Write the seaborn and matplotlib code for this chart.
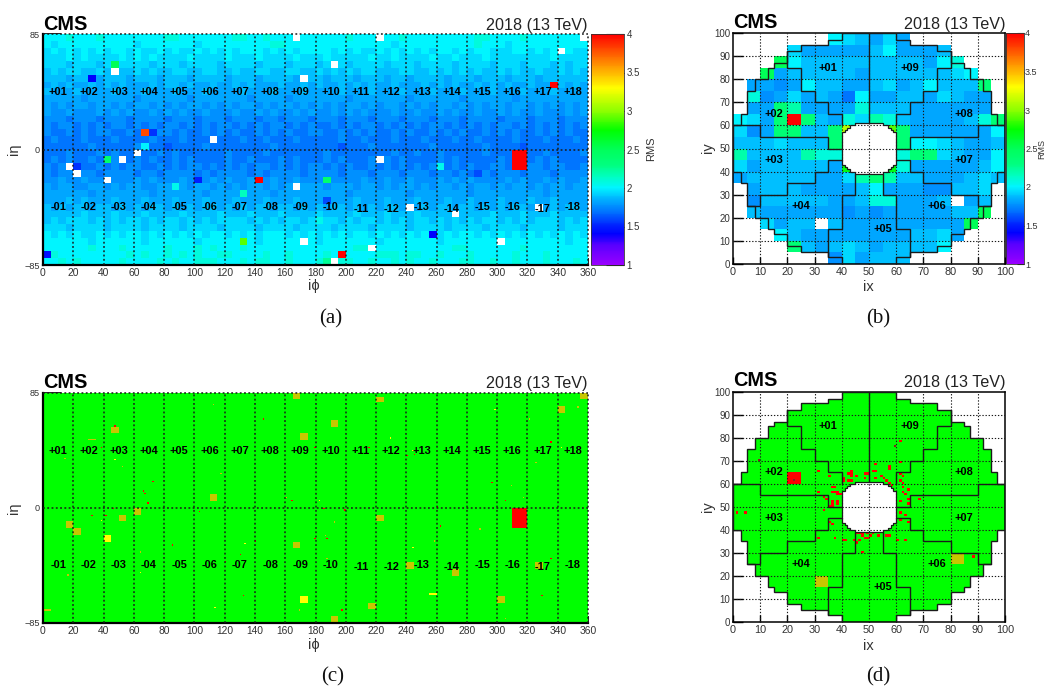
import numpy as np
import pandas as pd
import matplotlib
matplotlib.use("Agg")
import matplotlib.pyplot as plt
from matplotlib.colors import LinearSegmentedColormap, ListedColormap
import seaborn as sns

# ---------------------------------------------------------------- data
rms_levels = {'0': 1.63, '1': 1.70, '2': 1.77, '3': 1.83, '4': 1.88, '5': 1.94, '6': 2.0, '7': 2.08,
              '8': 2.2, '9': 2.35, 'A': 2.5, 'B': 2.7, 'C': 2.9, 'D': 3.1, 'E': 3.6, 'F': 4.0}

# barrel RMS per trigger tower, from ieta=+85 (top) to ieta=-85, iphi 0 to 360
barrel_rows = [
    "666766 676666 666677 666666 677667 666666 666676 666667 666666 666776 666766 666666",
    "656666 666666 566666 665666 666666 776666 666666 666656 666666 666766 656666 666666",
    "565656 565665 655656 556565 656665 656566 665656 556565 656566 565665 556656 565655",
    "555656 555565 656555 565555 655565 555655 565555 565565 555655 655565 555555 565555",
    "555455 545555 554555 455554 555545 554555 455545 555455 545555 455554 555455 545455",
    "454554 454544 545445 544554 454455 445544 545454 554445 544545 454544 545445 445454",
    "444344 434443 444344 434444 344434 444344 434443 444344 344443 444344 434443 444444",
    "343433 434343 334344 343343 343433 343343 433434 343343 334343 433434 343343 334343",
    "433343 333433 343334 333433 334333 433343 333433 343334 333433 343334 333433 343333",
    "333332 333333 233333 323333 333233 332333 333323 333333 233333 323333 332333 333333",
    "323233 233232 332323 233232 323323 233232 323233 232332 323233 232323 323323 232323",
    "322322 232323 223232 322322 232232 322323 223232 322232 232232 322322 323223 222323",
    "222122 212221 222212 221222 122212 212221 222122 212221 222122 212222 122212 221222",
    "212212 121221 212122 121212 212121 221212 112121 221212 121221 212121 221212 121212",
    "211212 122112 121221 211212 121121 212112 211212 121121 211212 121121 212112 121211",
    "121112 111211 112111 211121 112112 111211 111211 211121 112111 211211 112111 211121",
    "111111 211111 211101 111211 111111 211111 111011 121111 111211 111121 111011 111111",
    "111211 121211 211212 111111 211112 111111 121111 111121 121121 111121 111111 211112",
    "121211 211211 212112 121111 211211 121211 121211 121212 111121 211111 211212 121111",
    "212211 121212 211212 122121 212122 121212 212121 121212 121221 212112 212122 122112",
    "212222 212222 122122 221212 222121 222212 222122 212221 222122 121221 222122 212222",
    "223223 223222 323222 323232 322322 322322 232222 322322 322232 323222 232322 323223",
    "323322 332323 322332 323323 232332 323233 323332 332323 323233 232332 323323 233233",
    "333333 233333 332333 333233 333333 233333 333323 333333 233333 332333 333333 233333",
    "333434 333433 343334 333433 343334 333433 343334 333433 343334 334333 433343 343333",
    "434344 344343 434434 343443 434344 344343 434434 343443 434344 344343 434434 343443",
    "444445 444544 454444 544445 444544 454444 544445 444544 454444 544445 444544 454444",
    "454555 454545 545455 454545 555454 545545 455454 554545 455454 545455 454545 554545",
    "555455 554555 545555 455554 555545 555455 554555 545555 455554 555545 555455 554555",
    "656565 565656 656565 656566 565656 665656 565656 656565 656656 566565 656565 656565",
    "666666 566666 656666 665666 666656 666666 566666 665666 666656 666666 566666 666566",
    "666666 766676 666676 667676 667666 666666 666667 766666 666666 776666 666766 666666",
    "676666 666667 676676 767667 766667 667666 676666 667776 776676 667666 667666 766666",
    "667676 666676 666767 667776 667677 667666 766776 676676 766766 677667 667666 766676",
]
# (tower column, tower row from the top, RMS)
barrel_hot_towers = [
    (9, 4, 2.5), (6, 6, 1.4), (13, 14, 3.8), (14, 14, 1.55), (13, 16, 2.0), (8, 18, 2.4), (4, 19, 1.55),
    (20, 21, 1.5), (28, 21, 4.0), (37, 21, 2.4), (17, 22, 2.05), (26, 23, 2.15), (37, 24, 1.6),
    (36, 27, 2.05), (26, 30, 2.9), (0, 32, 1.45), (39, 32, 4.0), (37, 33, 2.25), (67, 7, 4.0),
    (62, 17, 4.0), (63, 17, 4.0), (62, 18, 4.0), (63, 18, 4.0), (62, 19, 4.0), (63, 19, 4.0),
    (52, 19, 2.05), (57, 20, 1.6), (51, 29, 1.4),
]
# towers without an RMS value (white) that show as olive or yellow in the status map
# (tower column, tower row from the top, status)
barrel_off_towers = [
    (33, 0, 1), (44, 0, 0), (71, 0, 1), (68, 2, 1), (38, 4, 1), (9, 5, 1), (34, 6, 1), (22, 15, 1),
    (12, 17, 1), (10, 18, 1), (44, 18, 1), (3, 19, 1), (4, 20, 1), (8, 21, 2), (33, 22, 1), (48, 25, 1),
    (65, 25, 1), (54, 26, 1), (34, 30, 2), (60, 30, 1), (43, 31, 1), (38, 33, 1),
]
barrel_red_towers = [(62, 17), (63, 17), (62, 18), (63, 18), (62, 19), (63, 19)]
# single crystals in the barrel status map: iphi, ieta, status
barrel_crystal_iphi = [47, 38, 14, 47, 52, 112, 117, 145, 179, 72, 66, 67, 69, 160, 164, 182, 46, 103, 32, 41, 38, 60,
                       215, 229, 240, 245, 244, 298, 321, 335, 342, 353, 325, 296, 309, 317, 305, 185, 199, 260, 262, 192,
                       133, 85, 130, 140, 179, 64, 64, 16, 120, 132, 113, 169, 186, 187, 187, 258, 244, 288, 329, 335, 197, 305]
barrel_crystal_ieta = [60, 44, 36, 35, 30, 76, 25, 65, 44, 19, 12, 10, 3, 7, 5, 5, -1, -3, -6, -6, -10, -12,
                       44, 51, 38, 39, 42, 72, 65, 48, 44, 74, 33, 18, 16, 7, 5, -1, -2, 0, -14, -11,
                       -27, -28, -35, -25, -23, -33, -48, -50, -40, -65, -74, -76, -21, -23, -38, -25, -30, -16, -65, -38, -76, -82]
barrel_crystal_status = [3, 3, 1, 2, 1, 1, 1, 3, 3, 3, 3, 3, 3, 1, 3, 2, 3, 3, 3, 3, 2, 1,
                         3, 2, 3, 3, 2, 2, 1, 3, 2, 1, 1, 3, 1, 1, 3, 3, 3, 3, 3, 1,
                         2, 3, 3, 3, 3, 1, 2, 1, 3, 3, 2, 1, 1, 3, 1, 1, 2, 1, 3, 3, 3, 1]
# short status strips: first iphi, last iphi, ieta range, status
barrel_strips = [(30, 35, 50, 51, 1), (0, 5, -76, -75, 1), (255, 260, -64, -63, 2), (220, 225, 78, 82, 1)]

# endcap RMS per 5x5 supercrystal, from iy 95-100 (top) to iy 0-5, ix 0 to 100
endcap_rows = [
    "       654353       ",
    "    533333463334    ",
    "   A6444444444367   ",
    "  A344444344444456  ",
    " 332364433453464449 ",
    " 723534316334435433 ",
    " 339833337444333333 ",
    "6539F943758743333479",
    "52399449D44C93333336",
    "44454449    96654334",
    "84444877    79954336",
    "53444443B44B73333346",
    "34444433589844333454",
    " 344433334633322445 ",
    " 244444334773334 34 ",
    " 43333332323333344A ",
    "  5344 4333333333A  ",
    "   64333333334453   ",
    "    943454344446    ",
    "       253444       ",
]
# endcap outline: left edge ix for each iy interval (symmetric about ix=50)
outline_iy = [100, 97, 95, 92, 87, 85, 80, 75, 65, 60, 40, 35, 25, 20, 15, 13, 8, 5, 3, 0]
outline_ix = [40, 35, 25, 20, 15, 13, 8, 5, 3, 0, 3, 5, 8, 13, 15, 20, 25, 35, 40]
# half width of the central hole, for distance 0..10 from iy=50
hole_half = [10, 10, 10, 10, 10, 10, 10, 9, 8, 7, 5]
# sector boundaries inside the endcap
sector_lines = [
    ([50, 50], [100, 61]),
    ([20, 20, 25, 25, 30, 30, 35, 35, 40, 40], [92, 85, 85, 75, 75, 70, 70, 65, 65, 60]),
    ([80, 80, 75, 75, 70, 70, 65, 65, 60, 60], [92, 85, 85, 75, 75, 70, 70, 65, 65, 60]),
    ([0, 10, 10, 35, 35, 40], [60, 60, 55, 55, 50, 50]),
    ([100, 90, 90, 65, 65, 60], [60, 60, 55, 55, 50, 50]),
    ([5, 10, 10, 20, 20, 30, 30, 35, 35, 40], [25, 25, 30, 30, 35, 35, 40, 40, 45, 45]),
    ([95, 90, 90, 80, 80, 70, 70, 65, 65, 60], [25, 25, 30, 30, 35, 35, 40, 40, 45, 45]),
    ([45, 45, 40, 40, 35, 35], [39, 30, 30, 15, 15, 3]),
    ([55, 55, 60, 60, 65, 65], [39, 30, 30, 15, 15, 3]),
]
# endcap status: red single crystals
ee_red_ix = [61, 61, 52, 57, 57, 31, 35, 40, 40, 42, 43, 43, 43, 45, 48, 49, 48, 42, 43, 51, 52, 52, 54, 55, 56,
             61, 62, 61, 62, 57, 58, 62, 64, 62, 63, 68, 64, 64, 61, 31, 36, 37, 36, 37, 38, 33, 38, 39, 34, 36, 36,
             38, 38, 35, 36, 33, 1, 4, 35, 36, 33, 31, 37, 40, 41, 44, 45, 46, 45, 46, 47, 49, 51, 47, 48, 49, 50,
             53, 56, 57, 47, 60, 63, 88, 61, 63, 64, 61]
ee_red_iy = [78, 69, 68, 67, 66, 65, 63, 62, 61, 64, 65, 64, 63, 63, 64, 64, 62, 61, 61, 65, 65, 62, 63, 62, 61,
             64, 63, 61, 60, 60, 59, 58, 57, 56, 55, 53, 53, 51, 52, 56, 58, 58, 56, 56, 56, 54, 55, 55, 53, 52, 51,
             52, 51, 50, 50, 48, 47, 47, 43, 42, 48, 36, 36, 35, 35, 35, 34, 35, 38, 38, 38, 38, 38, 37, 36, 36, 37,
             37, 37, 37, 30, 35, 35, 28, 44, 46, 43, 47]
# endcap status: 5x5 blocks, (ix, iy, status)
ee_blocks = [(20, 60, 3), (80, 25, 1), (30, 15, 1)]
# single dark crystals inside the status map
ee_dark_ix = [59, 9, 22]
ee_dark_iy = [76, 70, 61]

eta_ticks = [-85, 0, 85]
phi_ticks = list(range(0, 361, 20))
ix_ticks = list(range(0, 101, 10))
cbar_ticks = [1, 1.5, 2, 2.5, 3, 3.5, 4]
cbar_labels = ['1', '1.5', '2', '2.5', '3', '3.5', '4']
sm_plus = [f"+{i:02d}" for i in range(1, 19)]
sm_minus = [f"-{i:02d}" for i in range(1, 19)]
sm_minus_lower = ['-11', '-12', '-14', '-17']
ee_labels = ['+01', '+09', '+02', '+08', '+03', '+07', '+04', '+06', '+05']
ee_label_ix = [35, 65, 15, 85, 15, 85, 25, 75, 55]
ee_label_iy = [85, 85, 65, 65, 45, 45, 25, 25, 15]
captions = ['(a)', '(b)', '(c)', '(d)']

# ---------------------------------------------------------------- style
sns.set_theme(style="ticks")
plt.rcParams['font.family'] = ['Liberation Sans', 'DejaVu Sans']
W, H = 1046, 687
fig = plt.figure(figsize=(W / 100, H / 100), dpi=100, facecolor='white')

rms_anchor = [(1.0, (0.6, 0, 1)), (1.25, (0.35, 0, 1)), (1.4, (0, 0, 1)), (1.5, (0, 0.12, 1)), (1.7, (0, 0.47, 1)),
              (1.85, (0, 0.69, 1)), (2.0, (0, 0.96, 1)), (2.15, (0, 1, 0.75)), (2.3, (0, 1, 0.5)), (2.5, (0, 1, 0.35)),
              (2.75, (0, 1, 0)), (3.0, (0.55, 1, 0)), (3.3, (1, 1, 0)), (3.55, (1, 0.65, 0)), (4.0, (1, 0, 0))]
rms_cmap = LinearSegmentedColormap.from_list('rms', [((v - 1) / 3, c) for v, c in rms_anchor], N=256)
status_cmap = ListedColormap([(0, 1, 0), (0.78, 0.78, 0), (1, 1, 0), (1, 0, 0)])
DOT = (0, (1.2, 1.6))


def box(l, t, r, b):
    return [l / W, 1 - b / H, (r - l) / W, (b - t) / H]


def ftext(px, py, s, **kw):
    return fig.text(px / W, 1 - py / H, s, **kw)


def parse(row):
    return [rms_levels.get(ch, np.nan) for ch in row]


def style_cbar(ax, ticklen, labelsize, pad):
    cb = ax.collections[0].colorbar
    cb.set_ticks(cbar_ticks)
    cb.set_ticklabels(cbar_labels)
    cb.outline.set_visible(True)
    cb.outline.set_linewidth(0.6)
    cb.outline.set_edgecolor('#333333')
    cb.ax.tick_params(direction='in', length=ticklen, width=0.8, color='black', labelsize=labelsize,
                      labelcolor='#333333', pad=pad, right=True)


def barrel_axes(ax, step):
    ax.set_xlim(0, 360 / step)
    ax.set_ylim(0, 170 / step)
    ax.set_xticks([v / step for v in phi_ticks])
    ax.set_xticklabels([str(v) for v in phi_ticks], rotation=0)
    ax.set_yticks([(v + 85) / step for v in eta_ticks])
    ax.set_yticklabels([str(v).replace('-', '\u2212') for v in eta_ticks], rotation=0)
    ax.tick_params(axis='x', direction='in', length=5.4, width=1.2, color='black', labelsize=7.4,
                   labelcolor='#333333', pad=2, bottom=True)
    ax.tick_params(axis='y', direction='in', length=13, width=1.2, color='black', labelsize=6.6,
                   labelcolor='#333333', pad=2, left=True)
    for side in ('top', 'right'):
        ax.spines[side].set_visible(False)
    for side in ('left', 'bottom'):
        ax.spines[side].set_visible(True)
        ax.spines[side].set_linewidth(1.6)
        ax.spines[side].set_color('black')
    for v in phi_ticks[1:]:
        ax.plot([v / step, v / step], [0, 170 / step], color='k', ls=DOT, lw=1.1, clip_on=False, zorder=4)
    for v in [0, 85]:
        ax.plot([0, 360 / step], [(v + 85) / step] * 2, color='k', ls=DOT, lw=1.1, clip_on=False, zorder=4)
    for i, lab in enumerate(sm_plus):
        ax.text((10 + 20 * i) / step, (42 + 85) / step, lab, ha='center', va='center', fontsize=7.9,
                fontweight='bold', color='black', zorder=5)
    for i, lab in enumerate(sm_minus):
        y = -44 if lab in sm_minus_lower else -42
        ax.text((10 + 20 * i) / step, (y + 85) / step, lab, ha='center', va='center', fontsize=7.9,
                fontweight='bold', color='black', zorder=5)


def outline_path():
    xs, ys = [], []
    for k, w in enumerate(outline_ix):
        xs += [w, w]
        ys += [outline_iy[k], outline_iy[k + 1]]
    rx = [100 - v for v in reversed(xs)]
    ry = list(reversed(ys))
    return xs + rx + xs[:1], ys + ry + ys[:1]


def hole_path():
    lx, ly = [], []
    for iy in range(60, 38, -1):
        d = int(abs(iy - 49.5) - 0.5)
        lx += [50 - hole_half[d], 50 - hole_half[d]]
        ly += [iy + 1, iy]
    rx = [100 - v for v in reversed(lx)]
    ry = list(reversed(ly))
    return lx + rx + lx[:1], ly + ry + ly[:1]


def in_outline(ix, iy):
    for k, w in enumerate(outline_ix):
        if outline_iy[k + 1] <= iy < outline_iy[k]:
            return w <= ix < 100 - w
    return False


def in_hole(ix, iy):
    if iy < 39 or iy > 60:
        return False
    d = int(abs(iy - 49.5) - 0.5)
    return 50 - hole_half[d] <= ix < 50 + hole_half[d]


def endcap_axes(ax):
    ax.set_xlim(0, 100)
    ax.set_ylim(0, 100)
    ax.set_xticks(ix_ticks)
    ax.set_xticklabels([str(v) for v in ix_ticks], rotation=0)
    ax.set_yticks(ix_ticks)
    ax.set_yticklabels([str(v) for v in ix_ticks], rotation=0)
    ax.tick_params(axis='x', direction='in', length=5, width=1.0, color='black', labelsize=7.8,
                   labelcolor='#333333', pad=2, bottom=True)
    ax.tick_params(axis='y', direction='in', length=7, width=1.0, color='black', labelsize=7,
                   labelcolor='#333333', pad=2, left=True)
    for s in ax.spines.values():
        s.set_visible(True)
        s.set_linewidth(1.1)
        s.set_color('black')
    for v in ix_ticks[1:-1]:
        ax.plot([v, v], [0, 100], color='k', ls=DOT, lw=0.8, zorder=3)
        ax.plot([0, 100], [v, v], color='k', ls=DOT, lw=0.8, zorder=3)
    px, py = outline_path()
    ax.plot(px, py, color='k', lw=1.0, zorder=4, solid_joinstyle='miter')
    hx, hy = hole_path()
    ax.plot(hx, hy, color='k', lw=0.9, zorder=4, solid_joinstyle='miter')
    for xs, ys in sector_lines:
        ax.plot(xs, ys, color='k', lw=1.0, zorder=4, solid_joinstyle='miter')
    for x, y, lab in zip(ee_label_ix, ee_label_iy, ee_labels):
        ax.text(x, y, lab, ha='center', va='center', fontsize=7.9, fontweight='bold', color='black', zorder=5)


# ---------------------------------------------------------------- (a) barrel RMS
rows_a = []
for s in barrel_rows:
    s2 = ''.join(s.split())
    rows_a.append(parse((s2 + s2[-1] * 72)[:72]))
grid_a = np.array(rows_a, dtype=float)
for c, r, v in barrel_hot_towers:
    grid_a[r, c] = v
for c, r, _ in barrel_off_towers:
    grid_a[r, c] = np.nan
ax_a = fig.add_axes(box(43, 34, 588, 265))
cax_a = fig.add_axes(box(591, 34, 624, 265))
sns.heatmap(pd.DataFrame(grid_a[::-1]), ax=ax_a, cbar_ax=cax_a, cmap=rms_cmap, vmin=1, vmax=4,
            xticklabels=False, yticklabels=False)
barrel_axes(ax_a, 5)
style_cbar(ax_a, 13, 7, 2)

# ---------------------------------------------------------------- (b) endcap RMS
cells = np.array([parse(r.ljust(20)[:20]) for r in endcap_rows], dtype=float)[::-1]
grid_b = np.repeat(np.repeat(cells, 5, axis=0), 5, axis=1)
for iy in range(100):
    for ix in range(100):
        if in_hole(ix, iy):
            grid_b[iy, ix] = np.nan
ax_b = fig.add_axes(box(733, 33, 1005, 264))
cax_b = fig.add_axes(box(1006, 33, 1024, 264))
sns.heatmap(pd.DataFrame(grid_b), ax=ax_b, cbar_ax=cax_b, cmap=rms_cmap, vmin=1, vmax=4,
            xticklabels=False, yticklabels=False)
endcap_axes(ax_b)
style_cbar(ax_b, 5, 6.5, 0.8)

# ---------------------------------------------------------------- (c) barrel status
grid_c = np.zeros((170, 360))
for c, r, st in barrel_off_towers:
    grid_c[165 - 5 * r:170 - 5 * r, 5 * c:5 * c + 5] = st
for a, b, e0, e1, st in barrel_strips:
    grid_c[e0 + 85:e1 + 85, a:b] = st
for c, r in barrel_red_towers:
    grid_c[165 - 5 * r:170 - 5 * r, 5 * c:5 * c + 5] = 3
for p, e, st in zip(barrel_crystal_iphi, barrel_crystal_ieta, barrel_crystal_status):
    grid_c[e + 85, p] = st
ax_c = fig.add_axes(box(43, 392.7, 588, 623))
sns.heatmap(pd.DataFrame(grid_c), ax=ax_c, cbar=False, cmap=status_cmap, vmin=-0.5, vmax=3.5,
            xticklabels=False, yticklabels=False)
barrel_axes(ax_c, 1)

# ---------------------------------------------------------------- (d) endcap status
grid_d = np.full((100, 100), np.nan)
for iy in range(100):
    for ix in range(100):
        if in_outline(ix, iy) and not in_hole(ix, iy):
            grid_d[iy, ix] = 0
for x, y, st in ee_blocks:
    grid_d[y:y + 5, x:x + 5] = st
for x, y in zip(ee_red_ix, ee_red_iy):
    if not np.isnan(grid_d[y, x]):
        grid_d[y, x] = 3
ax_d = fig.add_axes(box(733, 391.7, 1005, 622))
sns.heatmap(pd.DataFrame(grid_d), ax=ax_d, cbar=False, cmap=status_cmap, vmin=-0.5, vmax=3.5,
            xticklabels=False, yticklabels=False)
endcap_axes(ax_d)
ax_d.scatter([x + 0.5 for x in ee_dark_ix], [y + 0.5 for y in ee_dark_iy], s=3, marker='s', color='#8a2020',
             linewidths=0, zorder=2)

# ---------------------------------------------------------------- texts
CMS = dict(fontsize=14.3, fontweight='bold', color='black', ha='left', va='baseline')
ENERGY = dict(fontsize=11.6, color='#222222', ha='right', va='baseline')
LAB = dict(fontsize=10.5, color='#333333', ha='center', va='center')
for x0, x1, yb in [(43, 588, 29.5), (733, 1005, 28), (43, 588, 387.5), (733, 1005, 386.5)]:
    ftext(x0, yb, 'CMS', **CMS)
    ftext(x1, yb + 0.5, '2018 (13 TeV)', **ENERGY)
ftext(314, 286, 'i\u03d5', **LAB)
ftext(314, 645, 'i\u03d5', **LAB)
ftext(14, 149, 'i\u03b7', rotation=90, **LAB)
ftext(14, 508, 'i\u03b7', rotation=90, **LAB)
ftext(868, 287, 'ix', **LAB)
ftext(868, 646, 'ix', **LAB)
ftext(708, 148, 'iy', rotation=90, **LAB)
ftext(708, 507, 'iy', rotation=90, **LAB)
ftext(651, 149, 'RMS', rotation=90, fontsize=8, color='#333333', ha='center', va='center')
ftext(1041.5, 149, 'RMS', rotation=90, fontsize=6.5, color='#333333', ha='center', va='center')
for (x, y), s in zip([(331, 319), (878, 319), (333, 677), (878, 677)], captions):
    ftext(x, y, s, fontsize=15, family='Liberation Serif', color='#111111', ha='center', va='center')

fig.savefig('out.png', dpi=100)
